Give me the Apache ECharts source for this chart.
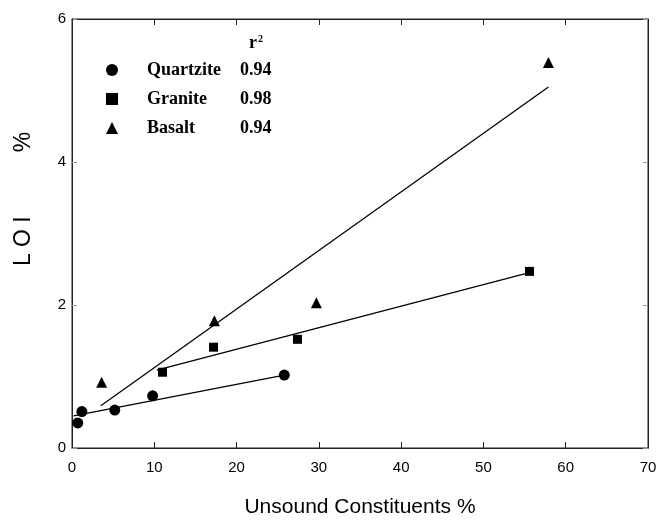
<!DOCTYPE html>
<html>
<head>
<meta charset="utf-8">
<script src="https://cdn.jsdelivr.net/npm/echarts@6/dist/echarts.min.js"></script>
<style>
  html, body { margin: 0; padding: 0; background: #fff; }
  #chart { width: 671px; height: 521px; }
</style>
</head>
<body>
<div id="chart"></div>
<script>
// Measured points: unsound constituents (%) vs loss on ignition (%)
const quartziteX = [0.7, 1.2, 5.2, 9.8, 25.8];
const quartziteY = [0.35, 0.51, 0.53, 0.73, 1.02];
const graniteX = [11.0, 17.2, 27.4, 55.6];
const graniteY = [1.06, 1.41, 1.52, 2.47];
const basaltX = [3.6, 17.3, 29.7, 57.9];
const basaltY = [0.92, 1.78, 2.03, 5.39];

// Regression line end points for each rock type
const quartziteFitX = [0.2, 25.8];
const quartziteFitY = [0.45, 1.02];
const graniteFitX = [10.3, 55.8];
const graniteFitY = [1.09, 2.46];
const basaltFitX = [3.5, 57.9];
const basaltFitY = [0.59, 5.05];

// Legend entries and coefficients of determination
const rockNames = ['Quartzite', 'Granite', 'Basalt'];
const rSquared = ['0.94', '0.98', '0.94'];
const rockSymbols = ['circle', 'rect', 'triangle'];
const rockSymbolSizes = [11, 9, 11];

const xTicks = { min: 0, max: 70, interval: 10 };
const yTicks = { min: 0, max: 6, interval: 2 };

const pairs = (xs, ys) => xs.map((x, i) => [x, ys[i]]);

const pointSets = [pairs(quartziteX, quartziteY), pairs(graniteX, graniteY), pairs(basaltX, basaltY)];
const fitSets = [pairs(quartziteFitX, quartziteFitY), pairs(graniteFitX, graniteFitY), pairs(basaltFitX, basaltFitY)];

const ink = '#000';
const frame = '#222';
const sansFont = '"Liberation Sans", Arial, sans-serif';
const serifFont = '"Liberation Serif", "Times New Roman", serif';

const series = [];
fitSets.forEach((d, i) => {
  series.push({
    name: rockNames[i] + ' fit',
    type: 'line',
    data: d,
    symbol: 'none',
    silent: true,
    lineStyle: { color: ink, width: 1.3, opacity: 1 },
    emphasis: { disabled: true },
    z: 2
  });
});
pointSets.forEach((d, i) => {
  series.push({
    name: rockNames[i],
    type: 'scatter',
    data: d,
    symbol: rockSymbols[i],
    symbolSize: rockSymbolSizes[i],
    itemStyle: { color: ink, opacity: 1 },
    emphasis: { disabled: true },
    z: 3
  });
});
// empty series so the mirrored top / right axes are laid out
series.push({ type: 'scatter', xAxisIndex: 1, yAxisIndex: 1, data: [], silent: true });

function makeAxis(base, extra) {
  return Object.assign({}, base, extra);
}

const xBase = {
  type: 'value',
  gridIndex: 0,
  min: xTicks.min, max: xTicks.max, interval: xTicks.interval,
  axisLine: { show: true, onZero: false, lineStyle: { color: frame, width: 1 } },
  axisTick: { show: true, inside: true, length: 6, lineStyle: { color: frame, width: 1 } },
  splitLine: { show: false }
};
const yBase = {
  type: 'value',
  gridIndex: 0,
  min: yTicks.min, max: yTicks.max, interval: yTicks.interval,
  axisLine: { show: true, onZero: false, lineStyle: { color: frame, width: 1 } },
  axisTick: { show: true, inside: true, length: 5, lineStyle: { color: '#999', width: 1 } },
  splitLine: { show: false }
};

const option = {
  backgroundColor: '#fff',
  animation: false,
  grid: {
    left: 72, right: 23, top: 19, bottom: 73,
    outerBoundsMode: 'none',
    containLabel: false,
    show: true, borderColor: frame, borderWidth: 1, backgroundColor: 'transparent'
  },
  xAxis: [
    makeAxis(xBase, {
      position: 'bottom',
      name: 'Unsound Constituents %',
      nameLocation: 'middle',
      nameGap: 49,
      nameTextStyle: { fontFamily: sansFont, fontSize: 21, color: ink },
      axisLabel: { margin: 12, fontFamily: sansFont, fontSize: 15, color: ink }
    }),
    makeAxis(xBase, {
      position: 'top',
      axisLabel: { show: false }
    })
  ],
  yAxis: [
    makeAxis(yBase, {
      position: 'left',
      axisLabel: { margin: 6, fontFamily: sansFont, fontSize: 15, color: ink }
    }),
    makeAxis(yBase, {
      position: 'right',
      axisLabel: { show: false }
    })
  ],
  legend: {
    data: rockNames.map((n, i) => ({ name: n, icon: rockSymbols[i], itemStyle: { color: ink, opacity: 1 } })),
    orient: 'vertical',
    left: 106,
    top: 61,
    padding: 0,
    itemWidth: 12,
    itemHeight: 12,
    itemGap: 11,
    selectedMode: false,
    formatter: name => {
      const i = rockNames.indexOf(name);
      return '{n|' + name + '}{v|' + rSquared[i] + '}';
    },
    textStyle: {
      fontFamily: serifFont,
      fontWeight: 'bold',
      fontSize: 18,
      color: ink,
      rich: {
        n: { fontFamily: serifFont, fontWeight: 'bold', fontSize: 18, color: ink, width: 93, padding: [0, 0, 0, 24] },
        v: { fontFamily: serifFont, fontWeight: 'bold', fontSize: 18, color: ink }
      }
    }
  },
  graphic: [
    {
      type: 'text',
      left: 249,
      top: 34,
      style: {
        text: '{r|r}{s|2}',
        rich: {
          r: { fontFamily: serifFont, fontWeight: 'bold', fontSize: 18, fill: ink, verticalAlign: 'bottom' },
          s: { fontFamily: serifFont, fontWeight: 'bold', fontSize: 10, fill: ink, verticalAlign: 'top', padding: [0, 0, 8, 1] }
        }
      }
    },
    {
      type: 'text',
      x: 24,
      y: 199,
      rotation: Math.PI / 2,
      style: {
        text: 'L O I          %',
        fontFamily: sansFont,
        fontSize: 23,
        fill: ink,
        align: 'center',
        verticalAlign: 'middle'
      }
    }
  ],
  series: series
};

const chart = echarts.init(document.getElementById('chart'), null, { renderer: 'canvas' });
chart.setOption(option);
</script>
</body>
</html>
